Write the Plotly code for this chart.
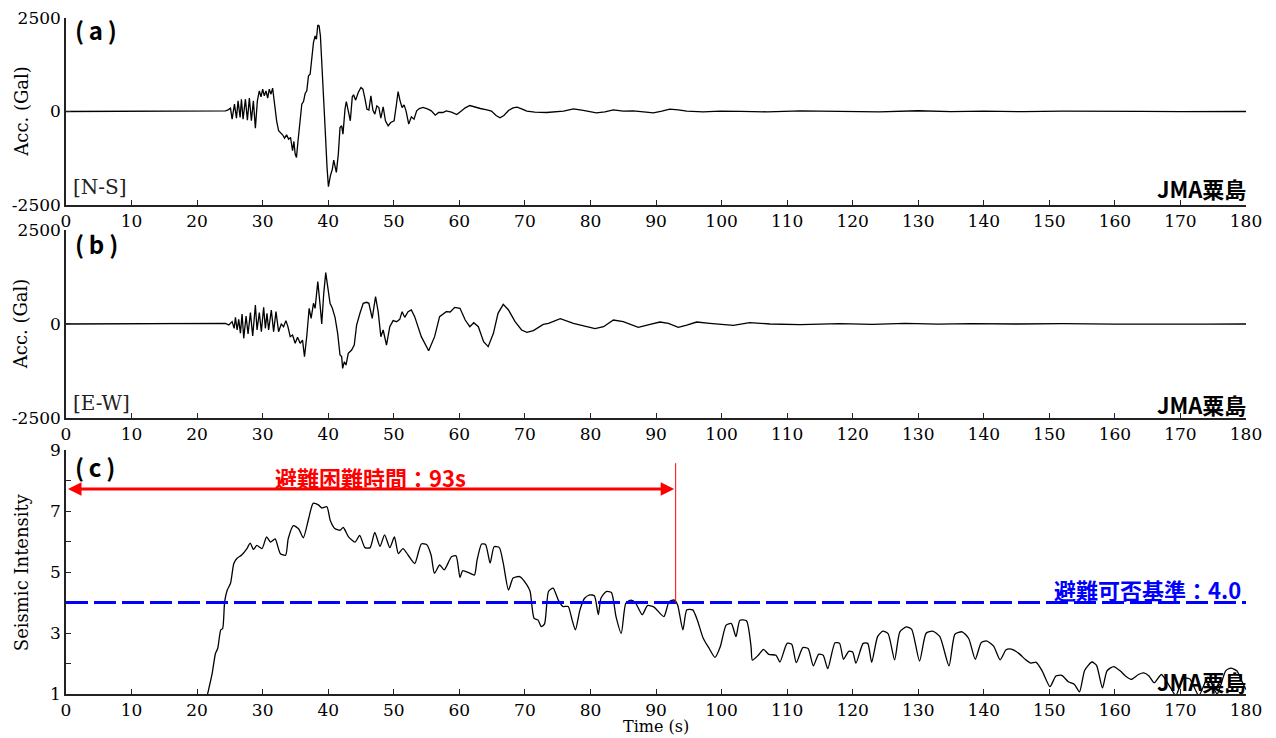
import plotly.graph_objects as go

# ---------------- data ----------------
ns_time = [0, 23.82, 24.33, 24.73, 25.09, 25.34, 25.70, 26.00, 26.25, 26.56, 26.76, 27.01, 27.37, 27.67,
           27.97, 28.28, 28.58, 28.89, 29.19, 29.49, 29.75, 30.00, 30.25, 30.51, 30.76, 31.01, 31.27,
           31.52, 31.82, 32.13, 32.43, 32.73, 33.04, 33.34, 33.65, 33.95, 34.25, 34.56, 34.76, 34.96,
           35.16, 35.37, 35.67, 35.97, 36.23, 36.48, 36.73, 36.99, 37.24, 37.49, 37.75, 38.00, 38.20,
           38.41, 38.61, 38.81, 39.11, 39.52, 39.82, 40.03, 40.33, 40.63, 40.84, 41.04, 41.24, 41.54,
           41.80, 42.05, 42.25, 42.56, 42.76, 43.06, 43.37, 43.67, 43.87, 44.18, 44.58, 44.99, 45.29,
           45.59, 45.90, 46.20, 46.51, 46.81, 47.11, 47.42, 47.72, 48.03, 48.38, 48.73, 49.14, 49.54,
           50.05, 50.41, 50.66, 50.96, 51.27, 51.57, 51.87, 52.28, 52.68, 53.09, 53.49, 53.90, 54.46,
           55.22, 55.72, 56.33, 56.84, 57.49, 58.00, 58.8, 59.6, 60.4, 60.9, 61.6, 62.4, 63.2, 64.2,
           64.9, 65.6, 66.2, 66.8, 67.5, 68.2, 68.8, 69.5, 70.3, 71.5, 73.3, 75.9, 77.4, 78.9, 80.9,
           82.2, 83.5, 85.0, 86.5, 88.1, 89.6, 90.9, 92.1, 93.4, 94.7, 97.2, 99.8, 103, 107, 112, 118,
           124, 130, 135, 140, 146, 152, 158, 164, 170, 175, 180]
ns_acc = [0, 0, 18, 45, 89, -205, 196, -178, 285, -160, 329, -205, 329, -231,
          356, -249, 285, -445, 285, 552, 392, 596, 418, 552, 356, 596, 463,
          623, 107, -249, -516, -561, -623, -712, -623, -739, -694, -1050, -801, -1139,
          -1228, -828, -383, 196, 267, 481, 552, 952, 997, 1353, 1842, 2020, 1931,
          2314, 2287, 2020, 1086, -427, -1495, -2011, -1718, -1540, -1299, -1451, -1629, -1139,
          -427, -383, -605, 62, 267, 18, -249, 392, 445, 303, 507, 641, 596,
          356, 62, 36, 418, 36, -71, 151, 107, -178, 125, -249, -383, -294,
          -249, 196, 534, 285, 107, 178, 18, -338, -142, -205, 18, 80, 107,
          62, 18, -98, -27, -27, 18, -18, -80, 27, 98, 160, 116, 80, 45,
          9, -107, -169, -107, 27, 98, 116, 71, 9, -18, -27, 9, 71, 27, -36,
          -9, 45, 9, 18, -9, -36, 9, 62, 45, 9, -9, 9, 5, -10, 15, 0,
          -10, 20, -5, 10, -5, 8, -3, 5, -2, 4, 0]

ew_time = [0, 23.82, 24.33, 24.84, 25.34, 25.65, 25.85, 26.10, 26.35, 26.61, 26.86, 27.11, 27.47, 27.77,
           28.13, 28.48, 28.89, 29.14, 29.49, 29.80, 30.15, 30.41, 30.66, 30.91, 31.32, 31.67, 32.03,
           32.43, 32.84, 33.19, 33.54, 33.85, 34.20, 34.56, 34.96, 35.32, 35.72, 36.08, 36.38, 36.73,
           37.09, 37.39, 37.75, 38.00, 38.41, 38.76, 39.01, 39.32, 39.62, 39.92, 40.28, 40.63, 41.04,
           41.44, 41.80, 42.05, 42.20, 42.46, 42.71, 43.06, 43.57, 43.97, 44.33, 44.84, 45.34, 45.85,
           46.20, 46.71, 47.22, 47.62, 48.03, 48.38, 48.89, 49.39, 49.90, 50.41, 50.91, 51.27, 51.67,
           52.18, 52.68, 53.19, 54.20, 55.32, 56.23, 56.99, 58.00, 58.6, 59.3, 60.1, 60.9, 61.6, 62.2,
           62.9, 63.7, 64.4, 65.2, 65.9, 66.7, 67.5, 68.5, 69.5, 70.3, 71.3, 72.8, 73.6, 75.4, 77.4,
           78.9, 80.7, 82.0, 83.5, 85.0, 87.3, 89.1, 90.6, 91.9, 93.4, 94.7, 96.2, 98.2, 101.8, 104.3,
           107.4, 112, 118, 123, 128, 133, 138, 145, 152, 160, 167, 174, 180]
ew_acc = [0, 0, 18, -27, 62, -115, 177, -160, 124, -248, 266, -381, 213, -266,
          302, -319, 506, -160, 302, -204, 444, -115, 284, -160, 373, -204, 328,
          -204, 0, -71, 89, -71, -337, -293, -514, -355, -514, -426, -869, -319,
          417, 151, 550, 417, 1126, 506, 0, 816, 1366, 993, 550, 417, 177,
          -248, -825, -869, -1180, -1002, -1091, -781, -692, -559, -27, 284, 550, 577,
          550, 151, 727, 328, -337, -160, -559, -71, 89, 62, 124, 328, 177,
          328, 373, 195, -337, -710, -337, 195, 328, 319, 443, 417, 106, -71, 35,
          -71, -470, -603, -248, 284, 523, 373, 62, -160, -222, -177, -9, 18, 142, 18,
          -53, -124, -71, 106, 62, -89, -9, 53, 18, -89, -27, 53, 18, -35, 35,
          0, -15, 10, -10, 15, -5, 10, 0, 8, -5, 5, -3, 0]

si_time = [21.2, 21.6, 22.3, 22.8, 23.15, 23.6, 23.9, 24.2, 24.6, 25.1, 25.6, 26.1, 26.8, 27.6, 28.1,
           28.6, 29.1, 29.9, 30.6, 31.2, 31.9, 32.7, 33.5, 33.9, 34.7, 35.5, 36.2, 37.0, 37.7, 38.5,
           39.0, 39.8, 40.3, 41.0, 41.8, 42.3, 43.1, 44.1, 44.8, 45.6, 46.4, 47.1, 47.9, 48.6, 49.4,
           50.1, 50.7, 51.4, 52.2, 53.2, 54.2, 55.0, 55.7, 56.2, 57.0, 57.7, 58.8, 59.5, 60.1, 60.5,
           61.5, 62.3, 62.7, 63.4, 64.0, 64.7, 65.3, 66.1, 66.7, 67.5, 68.2, 69.2, 70.3, 70.8, 71.4,
           72.0, 72.5, 73.0, 73.6, 74.3, 75.1, 75.8, 76.6, 77.2, 77.7, 78.4, 79.1, 79.9, 80.6, 81.2,
           81.6, 82.4, 83.2, 83.9, 84.7, 85.4, 86.2, 86.9, 87.9, 88.7, 89.7, 91.2, 92.0, 92.8, 93.3,
           94.1, 94.7, 95.6, 96.3, 97.2, 98.1, 99.0, 99.8, 100.7, 101.5, 102.2, 102.8, 103.8, 104.5,
           104.7, 105.6, 106.4, 107.2, 108.3, 108.9, 110.0, 110.7, 111.4, 112.4, 113.2, 114.0, 114.8,
           115.5, 116.2, 117.3, 118.0, 118.6, 119.4, 120.0, 120.5, 121.6, 122.3, 122.9, 123.8, 124.6,
           125.4, 126.4, 127.2, 128.2, 129.0, 130.2, 131.2, 132.2, 133.3, 134.7, 135.6, 136.7, 137.7,
           138.7, 139.6, 140.4, 141.5, 142.5, 143.4, 144.2, 145.3, 146.4, 147.2, 148.0, 148.9, 150.1,
           151.0, 151.9, 152.9, 153.8, 154.6, 155.4, 156.5, 157.2, 158.1, 158.8, 159.8, 160.8, 161.6,
           162.5, 163.6, 164.4, 165.2, 166.0, 167.1, 168.5, 169.3, 170.4, 171.4, 172.8, 174.2, 175.6,
           176.9, 177.7, 178.6, 179.4, 180.0]
si_val = [0.6, 1.0, 1.68, 2.33, 2.5, 3.1, 3.15, 4.03, 4.41, 4.63, 5.28, 5.45, 5.56, 5.77, 5.95,
          5.74, 5.87, 5.77, 6.15, 5.98, 6.09, 5.6, 5.55, 6.09, 6.52, 6.41, 6.12, 6.74, 7.25, 7.2,
          7.1, 7.14, 6.7, 6.43, 6.37, 6.46, 6.15, 5.98, 6.2, 5.8, 5.8, 6.3, 5.84, 6.22, 5.8,
          6.15, 5.6, 5.77, 5.55, 5.28, 5.92, 5.9, 5.55, 4.96, 5.23, 5.07, 5.5, 5.53, 4.82, 5.04,
          4.97, 4.9, 5.38, 5.92, 5.9, 5.29, 5.83, 5.8, 5.29, 4.41, 4.8, 4.85, 4.58, 4.36, 3.48,
          3.43, 3.21, 3.3, 4.36, 4.47, 4.08, 3.87, 3.87, 3.43, 3.1, 3.76, 4.14, 4.25, 4.22, 3.6,
          4.14, 4.36, 4.33, 3.54, 2.99, 3.98, 4.08, 3.98, 3.6, 3.9, 3.85, 3.54, 4.03, 4.08, 3.92,
          3.1, 3.76, 3.76, 3.43, 2.83, 2.5, 2.2, 2.55, 3.26, 3.31, 2.88, 3.42, 3.4, 2.55,
          2.11, 2.27, 2.46, 2.3, 2.27, 2.05, 2.66, 2.63, 2.03, 2.52, 2.49, 1.92, 2.3,
          2.27, 1.83, 2.68, 2.66, 2.14, 2.4, 2.38, 2.01, 2.66, 2.66, 2.04, 2.88, 3.06,
          2.98, 2.12, 3.04, 3.2, 3.12, 2.08, 2.99, 3.06, 2.88, 1.92, 2.96, 3.04, 2.82,
          2.14, 2.68, 2.74, 2.57, 2.12, 2.45, 2.47, 2.34, 2.12, 2.01, 2.04, 1.76, 1.24,
          1.59, 1.61, 1.4, 1.32, 1.07, 1.78, 2.05, 1.94, 1.2, 1.76, 1.9, 1.76, 1.59,
          1.48, 1.64, 1.69, 1.59, 1.37, 1.64, 1.2, 0.95, 1.5, 1.5, 0.95, 1.55, 1.0,
          1.76, 1.85, 1.76, 1.4, 1.15]

x_ticks = list(range(0, 181, 10))
acc_ticks = [-2500, 0, 2500]
acc_ticktext = ["-2500", "0", "2500"]
si_ticks = [1, 2, 3, 4, 5, 6, 7, 8, 9]
si_ticktext = ["1", "", "3", "", "5", "", "7", "", "9"]
threshold = 4.0
difficult_end = 93
arrow_level = 7.72

# ---------------- figure ----------------
SERIF = "DejaVu Serif"
SANS = "Noto Sans CJK JP"
AX = "#222222"

fig = go.Figure()
fig.add_trace(go.Scatter(x=ns_time, y=ns_acc, mode="lines", line=dict(color="black", width=1.3),
                         xaxis="x", yaxis="y", showlegend=False))
fig.add_trace(go.Scatter(x=ew_time, y=ew_acc, mode="lines", line=dict(color="black", width=1.3),
                         xaxis="x2", yaxis="y2", showlegend=False))
fig.add_trace(go.Scatter(x=si_time, y=si_val, mode="lines",
                         line=dict(color="black", width=1.3, shape="spline", smoothing=0.6),
                         xaxis="x3", yaxis="y3", showlegend=False))

xcommon = dict(range=[0, 180], tickvals=x_ticks, ticks="inside", ticklen=5, tickcolor=AX,
               showline=True, linecolor=AX, linewidth=1.5, showgrid=False, zeroline=False,
               automargin=False, ticklabeloverflow="allow",
               tickfont=dict(family=SERIF, size=17, color="black"), domain=[0, 1])
ycommon_acc = dict(range=[-2500, 2500], tickvals=acc_ticks, ticktext=acc_ticktext, ticks="inside",
                   ticklen=5, tickcolor=AX, automargin=False, ticklabeloverflow="allow",
                   showline=True, linecolor=AX, linewidth=1.5, showgrid=False, zeroline=False,
                   tickfont=dict(family=SERIF, size=17, color="black"))

fig.update_layout(
    width=1260, height=730,
    margin=dict(l=58, r=22, t=10, b=44),
    paper_bgcolor="white", plot_bgcolor="white",
    xaxis=dict(**xcommon, anchor="y"),
    yaxis=dict(**ycommon_acc, domain=[0.7234, 1.0], anchor="x"),
    xaxis2=dict(**xcommon, anchor="y2"),
    yaxis2=dict(**ycommon_acc, domain=[0.4083, 0.6864], anchor="x2"),
    xaxis3=dict(**xcommon, anchor="y3"),
    yaxis3=dict(range=[1, 9], tickvals=si_ticks, ticktext=si_ticktext, ticks="inside", ticklen=5,
                tickcolor=AX, showline=True, linecolor=AX, linewidth=1.5, showgrid=False, zeroline=False,
                automargin=False, ticklabeloverflow="allow",
                tickfont=dict(family=SERIF, size=17, color="black"), domain=[0.0, 0.3609], anchor="x3"),
)

# threshold line and difficult-time markers
fig.add_shape(type="line", xref="x3", yref="y3", x0=0, x1=180, y0=threshold, y1=threshold,
              line=dict(color="#0000ff", width=3, dash="22px,6px"))
fig.add_shape(type="line", xref="x3", yref="y3", x0=difficult_end, x1=difficult_end, y0=threshold, y1=8.57,
              line=dict(color="#ff0000", width=1))
fig.add_annotation(xref="x3", yref="y3", axref="x3", ayref="y3",
                   x=0.3, y=arrow_level, ax=difficult_end, ay=arrow_level,
                   showarrow=True, arrowhead=2, startarrowhead=2, arrowside="end+start",
                   arrowsize=0.9, arrowwidth=3, arrowcolor="#ff0000", text="")

PANEL_FONT = dict(family=SANS, size=24, color="black")
anns = [
    dict(xref="x domain", yref="y domain", x=0.006, y=0.936, text="<b>(\u2009a\u2009)</b>",
         xanchor="left", font=PANEL_FONT),
    dict(xref="x2 domain", yref="y2 domain", x=0.006, y=0.93, text="<b>(\u2009b\u2009)</b>",
         xanchor="left", font=PANEL_FONT),
    dict(xref="x3 domain", yref="y3 domain", x=0.006, y=0.934, text="<b>(\u2009c\u2009)</b>",
         xanchor="left", font=PANEL_FONT),
    dict(xref="x domain", yref="y domain", x=0.004, y=0.096, text="[N-S]", xanchor="left",
         font=dict(family=SERIF, size=20, color="#222222")),
    dict(xref="x2 domain", yref="y2 domain", x=0.004, y=0.08, text="[E-W]", xanchor="left",
         font=dict(family=SERIF, size=20, color="#222222")),
    dict(xref="x domain", yref="y domain", x=1.002, y=0.091, text="<b>JMA粟島</b>", xanchor="right",
         font=dict(family=SANS, size=22, color="black")),
    dict(xref="x2 domain", yref="y2 domain", x=1.002, y=0.075, text="<b>JMA粟島</b>", xanchor="right",
         font=dict(family=SANS, size=22, color="black")),
    dict(xref="x3 domain", yref="y3 domain", x=1.002, y=0.053, text="<b>JMA粟島</b>", xanchor="right",
         font=dict(family=SANS, size=22, color="black")),
    dict(xref="x3", yref="y3", x=46.5, y=8.11, text="<b>避難困難時間：93s</b>", xanchor="center",
         font=dict(family=SANS, size=22, color="#ff0000")),
    dict(xref="x3", yref="y3", x=179.5, y=4.44, text="<b>避難可否基準：4.0</b>", xanchor="right",
         font=dict(family=SANS, size=22, color="#0000ff")),
    dict(xref="paper", yref="y", x=-0.038, y=0, text="Acc. (Gal)", textangle=-90, xanchor="center",
         font=dict(family=SERIF, size=18, color="black")),
    dict(xref="paper", yref="y2", x=-0.038, y=0, text="Acc. (Gal)", textangle=-90, xanchor="center",
         font=dict(family=SERIF, size=18, color="black")),
    dict(xref="paper", yref="y3", x=-0.038, y=5, text="Seismic Intensity", textangle=-90,
         xanchor="center", font=dict(family=SERIF, size=18, color="black")),
    dict(xref="x3", yref="paper", x=90, y=-0.0488, text="Time (s)", xanchor="center", borderpad=0,
         font=dict(family=SERIF, size=16, color="black")),
]
for a in anns:
    a.setdefault("showarrow", False)
    a.setdefault("yanchor", "middle")
    fig.add_annotation(**a)

fig.write_html("out.html")
